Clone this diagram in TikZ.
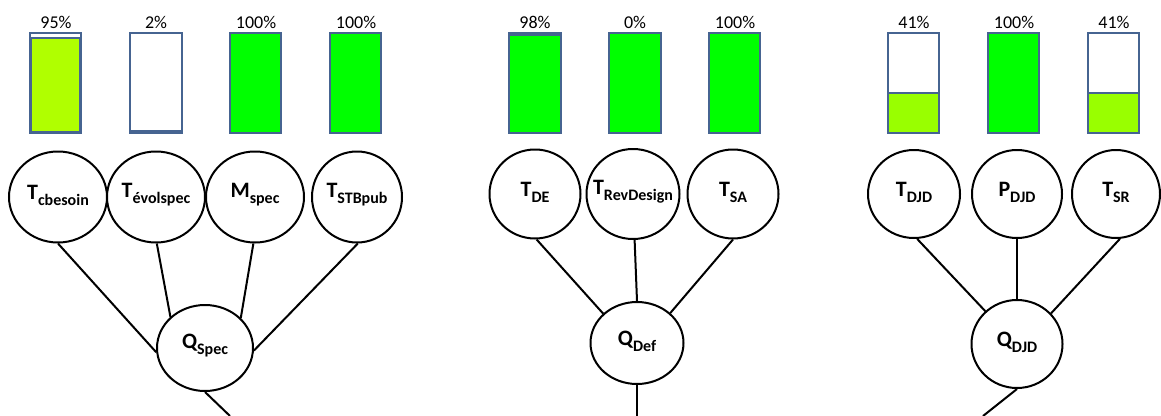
\documentclass[tikz,border=0pt]{standalone}
\usepackage{fontspec}
\setmainfont{Carlito}
\usetikzlibrary{shapes.geometric}
\definecolor{barline}{RGB}{70,100,145}
\definecolor{fgreen}{RGB}{0,255,0}
\definecolor{ygreenA}{RGB}{176,255,0}
\definecolor{ygreenB}{RGB}{153,255,0}
\newcommand{\lab}[2]{\bfseries{\fontsize{22}{22}\selectfont #1}\raisebox{-6pt}{\fontsize{16}{16}\selectfont #2}}
\tikzset{
  circ/.style={draw=black, line width=2pt, ellipse, inner sep=0pt, fill=white},
  conn/.style={draw=black, line width=2pt},
  barframe/.style={draw=barline, line width=2pt},
  barfill/.style={draw=barline, line width=1.5pt},
  pct/.style={font=\fontsize{18}{18}\selectfont, inner sep=0pt}
}
\begin{document}
\begin{tikzpicture}[x=1pt,y=-1pt]
\useasboundingbox (0,0) rectangle (1161,415);
% ---- bars, group 1
\draw[barframe, fill=white] (30,33) rectangle (81,133);
\draw[barfill, fill=ygreenA] (31,38) rectangle (80,132);
\node[pct] (p1) at (56,22) {95\%};
\draw[barframe, fill=white] (130,33) rectangle (182,133);
\fill[barline] (130,130) rectangle (182,134);
\node[pct] (p2) at (156,22) {2\%};
\draw[barframe, fill=fgreen] (230,33) rectangle (281,133);
\node[pct] (p3) at (256,22) {100\%};
\draw[barframe, fill=fgreen] (330,33) rectangle (381,133);
\node[pct] (p4) at (356,22) {100\%};
% ---- bars, group 2
\draw[barframe, fill=fgreen] (509,33) rectangle (561,133);
\draw[barline, line width=1.5pt] (509,35) -- (561,35);
\node[pct] (p5) at (535,22) {98\%};
\draw[barframe, fill=fgreen] (609,33) rectangle (661,133);
\node[pct] (p6) at (635,22) {0\%};
\draw[barframe, fill=fgreen] (709,33) rectangle (760,133);
\node[pct] (p7) at (735,22) {100\%};
% ---- bars, group 3
\draw[barframe, fill=white] (888,33) rectangle (939,133);
\draw[barfill, fill=ygreenB] (888,93) rectangle (939,133);
\node[pct] (p8) at (914,22) {41\%};
\draw[barframe, fill=fgreen] (988,33) rectangle (1039,133);
\node[pct] (p9) at (1014,22) {100\%};
\draw[barframe, fill=white] (1088,33) rectangle (1139,133);
\draw[barfill, fill=ygreenB] (1088,93) rectangle (1139,133);
\node[pct] (p10) at (1114,22) {41\%};
% ---- group 1 circles
\node[circ, minimum width=98pt, minimum height=91pt] (tc) at (58,197) {};
\node[circ, minimum width=98pt, minimum height=91pt] (te) at (156,197) {};
\node[circ, minimum width=98pt, minimum height=91pt] (ms) at (255,197) {};
\node[circ, minimum width=90pt, minimum height=91pt] (ts) at (357,197) {};
\node[circ, minimum width=96pt, minimum height=86pt] (q1) at (205,348) {};
\node (ltc) at ([yshift=2pt]tc) {\lab{T}{cbesoin}};
\node (lte) at ([yshift=2pt]te) {\lab{T}{évolspec}};
\node (lms) at ([yshift=2pt]ms) {\lab{M}{spec}};
\node (lts) at ([yshift=2pt]ts) {\lab{T}{STBpub}};
\node (lq1) at ([yshift=2pt]q1) {\lab{Q}{Spec}};
\coordinate (e1) at (230,416);
\draw[conn] (tc.south) -- (q1.185);
\draw[conn] (te.-89) -- (q1.138);
\draw[conn] (ms.-92) -- (q1.40);
\draw[conn] (ts.-89) -- (q1.-3);
\draw[conn] (q1.south) -- (e1);
% ---- group 2 circles
\node[circ, minimum width=91pt, minimum height=89pt] (tde) at (535,194) {};
\node[circ, minimum width=93pt, minimum height=90pt] (trd) at (633,194) {};
\node[circ, minimum width=91pt, minimum height=89pt] (tsa) at (733,194) {};
\node[circ, minimum width=93pt, minimum height=82pt] (q2) at (637,343) {};
\node (ltde) at ([yshift=2pt]tde) {\lab{T}{DE}};
\node (ltrd) at ([yshift=2pt]trd) {\lab{T}{RevDesign}};
\node (ltsa) at ([yshift=2pt]tsa) {\lab{T}{SA}};
\node (lq2) at ([yshift=2pt]q2) {\lab{Q}{Def}};
\coordinate (e2) at (637,416);
\draw[conn] (tde.-88) -- (q2.139);
\draw[conn] (trd.-88) -- (q2.north);
\draw[conn] (tsa.south) -- (q2.42);
\draw[conn] (q2.south) -- (e2);
% ---- group 3 circles
\node[circ, minimum width=92pt, minimum height=88pt] (tdj) at (914,194) {};
\node[circ, minimum width=90pt, minimum height=88pt] (pdj) at (1017,194) {};
\node[circ, minimum width=88pt, minimum height=88pt] (tsr) at (1116,194) {};
\node[circ, minimum width=91pt, minimum height=88pt] (q3) at (1017,344) {};
\node (ltdj) at ([yshift=2pt]tdj) {\lab{T}{DJD}};
\node (lpdj) at ([yshift=2pt]pdj) {\lab{P}{DJD}};
\node (ltsr) at ([yshift=2pt]tsr) {\lab{T}{SR}};
\node (lq3) at ([yshift=2pt]q3) {\lab{Q}{DJD}};
\coordinate (e3) at (983,416);
\draw[conn] (tdj.-86) -- (q3.134);
\draw[conn] (pdj.south) -- (q3.north);
\draw[conn] (tsr.-85) -- (q3.42);
\draw[conn] (q3.south) -- (e3);
\end{tikzpicture}
\end{document}
